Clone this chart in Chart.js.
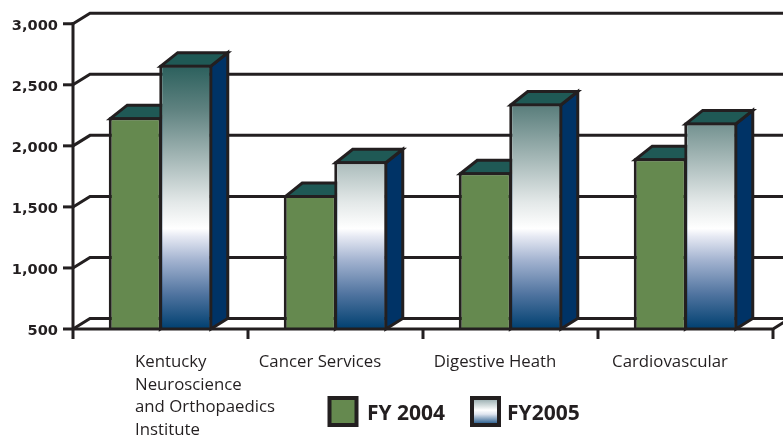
<!DOCTYPE html>
<html><head><meta charset="utf-8">
<style>html,body{margin:0;padding:0;background:#fff}canvas{display:block}</style>
<script src="https://cdn.jsdelivr.net/npm/chart.js@4/dist/chart.umd.js"></script>
</head><body>
<canvas id="c" width="783" height="439"></canvas>
<script>
const categories = [
  ["Kentucky","Neuroscience","and Orthopaedics","Institute"],
  ["Cancer Services"],
  ["Digestive Heath"],
  ["Cardiovascular"]
];
const seriesNames = ["FY 2004","FY2005"];
const fy2004 = [2235,1597,1784,1899];
const fy2005 = [2665,1874,2347,2192];

const INK="#231f20", GREEN="#65894f", TOP="#1f5955", SIDE="#003366";
const DX=17, DY_BACK=10.5, DY_TOP=13.5;

function barGradient(chart){
  const scaleY=chart.scales.y;
  if(!chart.chartArea||!scaleY) return "#ffffff";
  const y0=scaleY.getPixelForValue(2665), y1=scaleY.getPixelForValue(500);
  if(!isFinite(y0)||!isFinite(y1)) return "#ffffff";
  const g=chart.ctx.createLinearGradient(0,y0,0,y1);
  g.addColorStop(0,"#2a5f5c");
  g.addColorStop(.17,"#5f8280");
  g.addColorStop(.35,"#a3b6b5");
  g.addColorStop(.52,"#e3e8e8");
  g.addColorStop(.62,"#ffffff");
  g.addColorStop(.65,"#e6e9f3");
  g.addColorStop(.74,"#a3b3d0");
  g.addColorStop(.87,"#4f739f");
  g.addColorStop(1,"#004070");
  return g;
}
function poly(ctx,pts,fill){
  ctx.beginPath();
  pts.forEach((p,i)=>i?ctx.lineTo(p[0],p[1]):ctx.moveTo(p[0],p[1]));
  ctx.closePath();
  ctx.fillStyle=fill;ctx.fill();ctx.stroke();
}
const chart3d={
  id:"chart3d",
  beforeDatasetsDraw(chart){
    const {ctx,scales:{x,y},chartArea:a}=chart;
    ctx.save();
    ctx.strokeStyle=INK;ctx.lineWidth=3;ctx.lineJoin="miter";
    y.ticks.forEach(t=>{
      const py=y.getPixelForValue(t.value);
      ctx.beginPath();
      ctx.moveTo(a.left,py);ctx.lineTo(a.left+DX,py-DY_BACK);ctx.lineTo(chart.width,py-DY_BACK);
      ctx.stroke();
    });
    [0,1].forEach(i=>{
      chart.getDatasetMeta(i).data.forEach(b=>{
        const l=b.x-b.width/2+1.5,r=b.x+b.width/2-1.5,t=b.y+1.5,bt=a.bottom;
        poly(ctx,[[r,t],[r+DX,t-DY_TOP],[r+DX,bt-DY_BACK],[r,bt]],SIDE);
        poly(ctx,[[l,t],[l+DX,t-DY_TOP],[r+DX,t-DY_TOP],[r,t]],TOP);
      });
    });
    ctx.restore();
  },
  afterDatasetsDraw(chart){
    const {ctx,scales:{x,y},chartArea:a}=chart;
    ctx.save();
    ctx.strokeStyle=INK;ctx.lineWidth=3;
    ctx.beginPath();ctx.moveTo(a.left,a.top-1.5);ctx.lineTo(a.left,a.bottom+10);ctx.stroke();
    y.ticks.forEach(t=>{
      const py=y.getPixelForValue(t.value);
      ctx.beginPath();ctx.moveTo(a.left-10,py);ctx.lineTo(a.left,py);ctx.stroke();
    });
    ctx.beginPath();ctx.moveTo(a.left,a.bottom);ctx.lineTo(a.right,a.bottom);ctx.lineTo(a.right+DX,a.bottom-DY_BACK);ctx.stroke();
    const step=(a.right-a.left)/categories.length;
    for(let i=1;i<=categories.length;i++){
      const px=a.left+i*step;
      ctx.beginPath();ctx.moveTo(px,a.bottom);ctx.lineTo(px,a.bottom+10);ctx.stroke();
    }
    ctx.fillStyle=INK;ctx.font='16.8px "Open Sans"';ctx.textBaseline="alphabetic";
    categories.forEach((lines,i)=>{
      const cx=x.getPixelForValue(i);
      lines.forEach((s,k)=>{
        if(lines.length>1){ctx.textAlign="left";ctx.fillText(s,cx-25.5,367+k*22.6);}
        else{ctx.textAlign="center";ctx.fillText(s,cx-15.5,367);}
      });
    });
    const sw=[[329.5,GREEN],[472,null]];
    ctx.lineWidth=4;
    sw.forEach(([lx,c])=>{
      let f=c;
      if(!f){
        f=ctx.createLinearGradient(0,398,0,425);
        f.addColorStop(0,"#8fa5a8");f.addColorStop(.45,"#ffffff");f.addColorStop(.6,"#dfe5ef");f.addColorStop(1,"#0f4a80");
      }
      ctx.fillStyle=f;ctx.fillRect(lx,398,27,27);ctx.strokeRect(lx,398,27,27);
    });
    ctx.fillStyle=INK;ctx.font='bold 21px "Open Sans"';ctx.textAlign="left";
    ctx.fillText(seriesNames[0],367,420);
    ctx.fillText(seriesNames[1],507,420);
    ctx.restore();
  }
};
new Chart(document.getElementById("c"),{
  type:"bar",
  data:{labels:categories.map(l=>l.join(" ")),datasets:[
    {label:seriesNames[0],data:fy2004,base:500,backgroundColor:GREEN,borderColor:INK,borderWidth:3,categoryPercentage:0.5771,barPercentage:1.05},
    {label:seriesNames[1],data:fy2005,base:500,backgroundColor:c=>barGradient(c.chart),borderColor:INK,borderWidth:3,categoryPercentage:0.5771,barPercentage:1.05}
  ]},
  plugins:[chart3d],
  options:{
    responsive:false,animation:false,devicePixelRatio:1,
    layout:{padding:{top:22.5,right:10,left:0,bottom:0}},
    plugins:{legend:{display:false},tooltip:{enabled:false}},
    scales:{
      x:{type:"category",offset:true,
        grid:{display:false},border:{display:false},ticks:{display:false},
        afterFit(s){s.height=110;}},
      y:{min:500,max:3000,
        grid:{display:false,drawTicks:false},border:{display:false},
        ticks:{stepSize:500,padding:15,labelOffset:2.5,color:INK,font:{family:'"DejaVu Sans"',weight:"bold",size:14.6},
          callback:v=>v.toLocaleString("en-US")},
        afterFit(s){s.width=73;}}
    }
  }
});
</script>
</body></html>
